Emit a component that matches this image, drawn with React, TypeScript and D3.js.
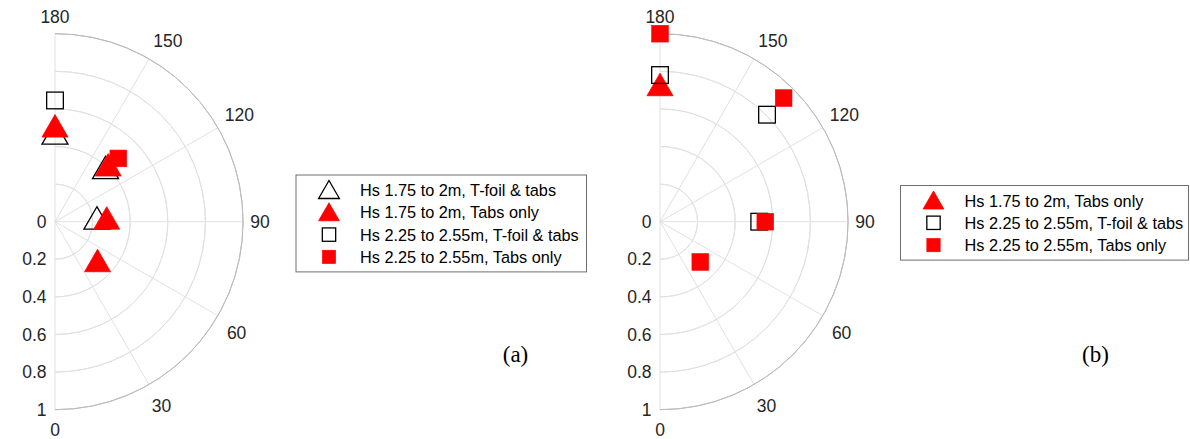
import React from "react";
import * as d3 from "d3";

const thetaTicks = [0, 30, 60, 90, 120, 150, 180];
const rTicks = [0, 0.2, 0.4, 0.6, 0.8, 1];
const rTickLabels = ["0", "0.2", "0.4", "0.6", "0.8", "1"];

// Panel (a)
const aTfoil175Theta = [180, 135, 90];
const aTfoil175R = [0.452, 0.38, 0.223];
const aTabs175Theta = [180, 135, 90, 45];
const aTabs175R = [0.49, 0.4, 0.275, 0.32];
const aTfoil225Theta = [180];
const aTfoil225R = [0.645];
const aTabs225Theta = [135];
const aTabs225R = [0.476];

// Panel (b)
const bTabs175Theta = [180];
const bTabs175R = [0.71];
const bTfoil225Theta = [180, 135, 90];
const bTfoil225R = [0.78, 0.805, 0.528];
const bTabs225Theta = [180, 135, 90, 45];
const bTabs225R = [1.0, 0.93, 0.56, 0.303];

const labelTfoil175 = "Hs 1.75 to 2m, T-foil & tabs";
const labelTabs175 = "Hs 1.75 to 2m, Tabs only";
const labelTfoil225 = "Hs 2.25 to 2.55m, T-foil & tabs";
const labelTabs225 = "Hs 2.25 to 2.55m, Tabs only";

type Kind = "triOpen" | "triRed" | "sqOpen" | "sqRed";
type Series = { kind: Kind; label: string; theta: number[]; r: number[] };

const panelA: Series[] = [
  { kind: "triOpen", label: labelTfoil175, theta: aTfoil175Theta, r: aTfoil175R },
  { kind: "triRed", label: labelTabs175, theta: aTabs175Theta, r: aTabs175R },
  { kind: "sqOpen", label: labelTfoil225, theta: aTfoil225Theta, r: aTfoil225R },
  { kind: "sqRed", label: labelTabs225, theta: aTabs225Theta, r: aTabs225R },
];
const panelB: Series[] = [
  { kind: "triRed", label: labelTabs175, theta: bTabs175Theta, r: bTabs175R },
  { kind: "sqOpen", label: labelTfoil225, theta: bTfoil225Theta, r: bTfoil225R },
  { kind: "sqRed", label: labelTabs225, theta: bTabs225Theta, r: bTabs225R },
];

const R = 188;
const TXT = "#262626";
const GRID = "#e1e1e1";
const EDGE = "#bcbcbc";
const FONT = "'Liberation Sans', Arial, Helvetica, sans-serif";

function Marker({ kind, x, y, scale = 1 }: { kind: Kind; x: number; y: number; scale?: number }) {
  if (kind === "triOpen" || kind === "triRed") {
    const w = 26 * scale;
    const h = 22.5 * scale;
    const top = y - (2 * h) / 3;
    const bot = y + h / 3;
    const p = d3.path();
    p.moveTo(x, top);
    p.lineTo(x + w / 2, bot);
    p.lineTo(x - w / 2, bot);
    p.closePath();
    return kind === "triRed" ? (
      <path d={p.toString()} fill="#ff0000" stroke="#ff0000" strokeWidth={0.8} />
    ) : (
      <path d={p.toString()} fill="none" stroke="#000" strokeWidth={1.3} />
    );
  }
  const s = 16.7 * scale;
  return kind === "sqRed" ? (
    <rect x={x - s / 2} y={y - s / 2} width={s} height={s} fill="#ff0000" stroke="#ff0000" strokeWidth={0.6} />
  ) : (
    <rect x={x - s / 2} y={y - s / 2} width={s} height={s} fill="none" stroke="#000" strokeWidth={1.3} />
  );
}

function Polar({ cx, cy, series }: { cx: number; cy: number; series: Series[] }) {
  const rScale = d3.scaleLinear().domain([0, 1]).range([0, R]);
  const toRad = (t: number) => (t * Math.PI) / 180;
  const px = (t: number, r: number) => cx + rScale(r) * Math.sin(toRad(t));
  const py = (t: number, r: number) => cy + rScale(r) * Math.cos(toRad(t));
  const halfArc = (r: number) =>
    d3.arc()({ innerRadius: rScale(r), outerRadius: rScale(r), startAngle: 0, endAngle: Math.PI }) as string;
  return (
    <g>
      {rTicks.slice(1, -1).map((r) => (
        <path key={"ring" + r} d={halfArc(r)} transform={`translate(${cx},${cy})`} fill="none" stroke={GRID} strokeWidth={1} />
      ))}
      {thetaTicks.map((t) => (
        <line key={"sp" + t} x1={cx} y1={cy} x2={px(t, 1)} y2={py(t, 1)} stroke={GRID} strokeWidth={1} />
      ))}
      <path d={halfArc(1)} transform={`translate(${cx},${cy})`} fill="none" stroke={EDGE} strokeWidth={1} />
      {thetaTicks.map((t) => {
        const d = t % 90 === 0 ? (t === 0 ? R + 20 : R + 17) : R + 25;
        const ang = t === 150 ? 148 : t === 60 ? 58.5 : t;
        return (
          <text
            key={"tl" + t}
            x={cx + d * Math.sin(toRad(ang))}
            y={cy + d * Math.cos(toRad(ang))}
            textAnchor="middle"
            dominantBaseline="central"
            fontFamily={FONT}
            fontSize={17.5}
            fill={TXT}
          >
            {t}
          </text>
        );
      })}
      {rTicks.map((r, i) => (
        <text
          key={"rl" + r}
          x={cx - 8.5}
          y={cy + rScale(r)}
          textAnchor="end"
          dominantBaseline="central"
          fontFamily={FONT}
          fontSize={17.5}
          fill={TXT}
        >
          {rTickLabels[i]}
        </text>
      ))}
      {series.map((s, si) =>
        s.theta.map((t, i) => <Marker key={`m${si}-${i}`} kind={s.kind} x={px(t, s.r[i])} y={py(t, s.r[i])} />)
      )}
    </g>
  );
}

function Legend({ x, y, w, series }: { x: number; y: number; w: number; series: Series[] }) {
  const rowH = 22.3;
  const padTop = 15;
  const h = padTop * 2 + rowH * (series.length - 1);
  return (
    <g>
      <rect x={x} y={y} width={w} height={h} fill="#fff" stroke="#6e6e6e" strokeWidth={1} />
      {series.map((s, i) => {
        const yy = y + padTop + i * rowH;
        return (
          <g key={"lg" + i}>
            <Marker kind={s.kind} x={x + 33} y={s.kind.startsWith("tri") ? yy + 2.5 : yy} scale={0.8} />
            <text x={x + 64} y={yy} dominantBaseline="central" fontFamily={FONT} fontSize={16.3} fill="#000">
              {s.label}
            </text>
          </g>
        );
      })}
    </g>
  );
}

export default function App() {
  return (
    <svg
      width={1190}
      height={439}
      style={{ position: "absolute", left: 0, top: 0, background: "#fff" }}
    >
      <rect width={1190} height={439} fill="#fff" />
      <Polar cx={55} cy={221.7} series={panelA} />
      <Polar cx={660} cy={221.7} series={panelB} />
      <Legend x={296} y={175} w={290.5} series={panelA} />
      <Legend x={900.5} y={185.5} w={288} series={panelB} />
      <text x={515.5} y={362} textAnchor="middle" fontFamily="'Liberation Serif', 'Times New Roman', serif" fontSize={23} fill="#000">
        (a)
      </text>
      <text x={1095.5} y={362} textAnchor="middle" fontFamily="'Liberation Serif', 'Times New Roman', serif" fontSize={23} fill="#000">
        (b)
      </text>
    </svg>
  );
}
